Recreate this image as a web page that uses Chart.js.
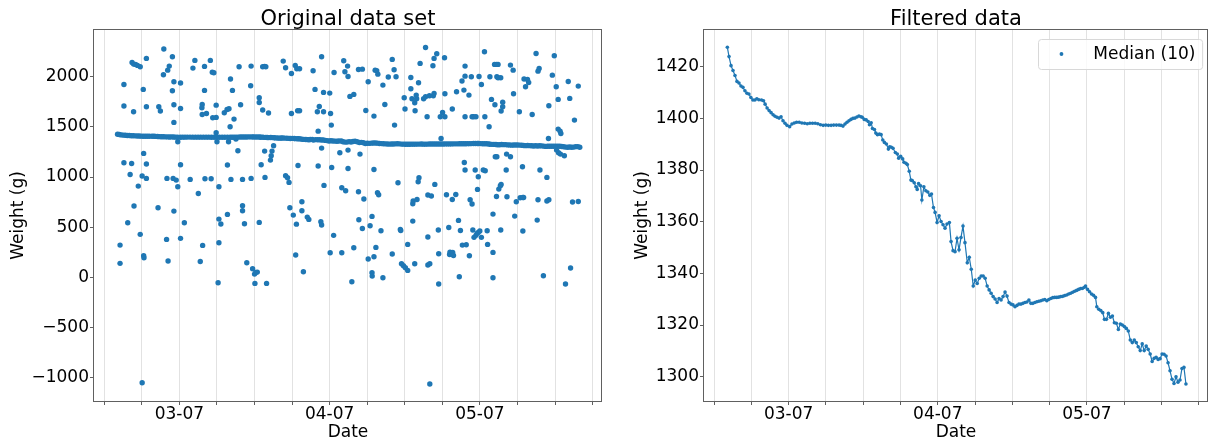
<!DOCTYPE html>
<html>
<head>
<meta charset="utf-8">
<script src="https://cdn.jsdelivr.net/npm/chart.js@4.4.1/dist/chart.umd.min.js"></script>
<style>
  html, body { margin: 0; padding: 0; background: #fff; }
  .panel { position: absolute; top: 0; width: 606px; height: 441px; }
  #rawPanel { left: 0; }
  #medianPanel { left: 606px; }
</style>
</head>
<body>
<div class="panel" id="rawPanel"><canvas id="rawChart" width="606" height="441"></canvas></div>
<div class="panel" id="medianPanel"><canvas id="medianChart" width="606" height="441"></canvas></div>
<script>
// hours since day 03 00:00
const tickHours = [-5, 1, 7, 13, 19, 25, 31, 37, 43, 49, 55, 61, 67, 73];
const tickLabels = ['', '', '03-07', '', '', '', '04-07', '', '', '', '05-07', '', '', ''];

const rawTicks = [-1000, -500, 0, 500, 1000, 1500, 2000];
const medianTicks = [1300, 1320, 1340, 1360, 1380, 1400, 1420];

// median (10) filtered weight
const medianHours = [
  -2.87, -2.6, -2.28, -1.96, -1.64, -1.32, -1.0, -0.68, -0.36, -0.04,
  0.28, 0.6, 0.92, 1.24, 1.56, 1.88, 2.2, 2.63, 2.95, 3.21,
  3.53, 3.85, 4.17, 4.49, 4.81, 5.13, 5.45, 5.77, 6.09, 6.41,
  6.73, 7.16, 7.53, 7.9, 8.28, 8.7, 9.13, 9.56, 9.99, 10.41,
  10.84, 11.27, 11.69, 12.12, 12.55, 12.97, 13.4, 13.83, 14.25, 14.68,
  15.11, 15.43, 15.75, 16.07, 16.39, 16.71, 17.03, 17.35, 17.67, 17.99,
  18.31, 18.63, 18.84, 19.16, 19.48, 19.8, 20.01, 20.28, 20.49, 20.81,
  21.03, 21.29, 21.61, 21.88, 22.15, 22.41, 22.73, 23.05, 23.27, 23.53,
  23.8, 24.17, 24.49, 24.71, 25.03, 25.35, 25.56, 25.88, 26.1, 26.41,
  26.68, 26.89, 27.21, 27.48, 27.69, 27.91, 28.23, 28.44, 28.76, 29.08,
  29.4, 29.72, 29.99, 30.31, 30.57, 30.89, 31.21, 31.53, 31.85, 32.17,
  32.49, 32.87,
  33.14, 33.46, 33.78, 34.1, 34.42, 34.74, 35.06, 35.38, 35.75, 36.07,
  36.39, 36.71, 37.03, 37.35, 37.67, 37.99, 38.31, 38.63, 38.95, 39.27,
  39.59, 39.91, 40.23, 40.55, 40.87, 41.19, 41.51, 41.83, 42.15, 42.47,
  42.79, 43.11, 43.43, 43.75, 44.07, 44.39, 44.71, 45.03, 45.35, 45.67,
  45.99, 46.31, 46.63, 46.95, 47.27, 47.59, 47.91, 48.23, 48.55, 48.87,
  49.19, 49.51, 49.83, 50.15, 50.47, 50.79, 51.11, 51.43, 51.75, 52.07,
  52.39, 52.71, 53.03, 53.35, 53.67, 53.99, 54.31, 54.63, 54.79, 55.11,
  55.43, 55.75, 56.07, 56.39, 56.6, 56.92, 57.24, 57.56, 57.83, 58.15,
  58.47, 58.79, 59.11, 59.43, 59.75, 60.07, 60.39, 60.71, 61.03, 61.35,
  61.67, 61.99, 62.31, 62.63, 62.95, 63.27, 63.59, 63.91, 64.23, 64.55,
  64.87, 65.19, 65.51, 65.83, 66.15, 66.47, 66.79, 67.11, 67.43, 67.75,
  68.07, 68.39, 68.71, 69.03, 69.35, 69.67, 69.99, 70.31, 70.63, 70.95
];
const medianWeights = [
  1427.5, 1423.9, 1420.4, 1418.5, 1416.6, 1414.3, 1413.7, 1412.5, 1412, 1410.7,
  1409.7, 1409.4, 1408.1, 1407.1, 1407.1, 1407.6, 1407.2, 1407.1, 1406.8, 1405.5,
  1404, 1403, 1402.2, 1401.4, 1400.8, 1400.4, 1400.1, 1400.6, 1399.1, 1398.1,
  1397.3, 1396.8, 1397.8, 1398.2, 1398.5, 1398.5, 1398.2, 1398.1, 1397.9, 1398.1,
  1398.1, 1398.1, 1397.9, 1397.5, 1397.3, 1397.4, 1397.3, 1397.3, 1397.4, 1397.4,
  1397.4, 1397.3, 1397, 1397.8, 1398.5, 1399.1, 1399.6, 1400, 1400.1, 1400.5,
  1400.9, 1400.6, 1400.4, 1399.6, 1399.4, 1398.8, 1397.5, 1398.3, 1396.1, 1395.7,
  1394.3, 1393.7, 1393.9, 1393.7, 1391.6, 1390.7, 1390.1, 1388.1, 1389, 1388.8,
  1388.4, 1386.8, 1386.2, 1384.6, 1385.3, 1384.3, 1383, 1382.6, 1382.1, 1379.5,
  1376.1, 1375.9, 1375.1, 1373.5, 1372.5, 1374.8, 1373.9, 1368.4, 1373.5, 1372,
  1371.5, 1370.2, 1370.7, 1365.5, 1363.6, 1359.7, 1362.3, 1360.1, 1358.8, 1357.5,
  1359.1, 1359.7,
  1352.3, 1348.8, 1348.4, 1353.6, 1349.1, 1353.9, 1358.3, 1351.9, 1344.1, 1346.2,
  1341.6, 1335.1, 1337.4, 1336.1, 1338.1, 1339, 1339, 1338.1, 1335.1, 1333.6,
  1332.3, 1331, 1330.1, 1328.7, 1330.3, 1329.7, 1331, 1332.8, 1331.2, 1328.7,
  1328.1, 1327.8, 1327.1, 1327.6, 1328.1, 1328.1, 1328.4, 1328.7, 1328.9, 1329.7,
  1328.4, 1328.4, 1328.7, 1329, 1329.2, 1329.4, 1329.7, 1329.9, 1329.4, 1329.9,
  1330.3, 1330.6, 1330.7, 1330.7, 1330.8, 1331, 1331.1, 1331.4, 1331.6, 1332,
  1332.3, 1332.7, 1333.1, 1333.4, 1333.8, 1334.1, 1334.2, 1334.6, 1335.1, 1333.8,
  1332.9, 1332, 1331.5, 1330.7, 1327.1, 1326.1, 1325.6, 1324.8, 1322.2, 1322.2,
  1324.5, 1323, 1323.5, 1320.9, 1320.7, 1318.3, 1320.4, 1320, 1319.4, 1318.7,
  1317.7, 1314.2, 1313.2, 1314.2, 1313.2, 1311.6, 1310.1, 1312.7, 1310.1, 1311.9,
  1310.6, 1308.8, 1305.9, 1307.1, 1307.5, 1306.7, 1307, 1308.8, 1308.7, 1308,
  1305.4, 1302.3, 1299, 1297.4, 1300, 1297.9, 1298.7, 1303.2, 1303.6, 1297.2
];

// raw readings away from the main band
const outlierHours = [
  -2.47, -2.47, -1.85, -1.85, -1.85, -1.24, -0.86, -0.55, -0.31, 0.0,
  0.31, -0.62, -0.31, -0.24, 0.44, 0.75, 0.75, 1.24, 1.3, 1.3,
  1.35, 1.06, 1.06, 1.74, 1.74, 1.74, 1.74, 3.6, 3.72, 3.97,
  4.52, 4.46, 4.96, 5.02, 5.14, 5.2, 5.39, 5.89, 5.89, 6.01,
  6.13, 6.13, 6.13, 6.13, 6.5, 6.75, 6.75, 7.19, 7.19, 7.19,
  7.19, 7.8, 8.73, 9.17, 9.48, 10.03, 10.34, 10.65, 10.6, 10.65,
  10.72, 11.02, 11.02, 11.09, 11.33, 11.95, 12.08, 12.26, 12.51, 12.33,
  12.88, 12.88, 12.88, 13.01, 13.19, 13.32, 13.32, 13.32, 13.63, 14.18,
  14.62, 14.93, 14.68, 14.68, 14.86, 15.11, 15.17, 15.24, 15.48, 15.73,
  16.04, 16.35, 16.54, 16.78, 17.09, 17.09, 17.09, 17.4, 17.77, 18.39,
  18.46, 18.46, 18.7, 19.01, 19.2, 19.45, 19.07, 19.76, 19.76, 19.76,
  20.07, 20.31, 20.31, 20.62, 20.81, 20.62, 20.68, 20.93, 21.24, 21.55,
  21.67, 21.8, 22.05, 23.59, 23.97, 23.97, 24.28, 24.52, 24.65, 24.9,
  24.9, 25.2, 25.51, 25.76, 26.2, 25.58, 25.7, 25.89, 26.2, 25.95,
  26.57, 26.57, 26.81, 27.43, 27.68, 28.36, 28.67, 29.04, 29.17, 29.17,
  29.35, 29.6, 29.72, 29.72, 29.72, 30.03, 30.03, 30.1, 31.02, 31.15,
  31.27, 31.33, 31.09, 31.64, 31.71, 32.63, 32.94, 32.94, 33.25, 33.44,
  33.56, 33.87, 33.94, 33.94, 33.94, 34.24, 34.86, 34.55, 34.86, 35.61,
  36.23, 35.61, 35.85, 35.67, 36.23, 36.47, 36.78, 37.16, 37.16, 37.46,
  37.77, 37.77, 37.8, 38.08, 38.08, 38.08, 38.27, 38.52, 38.7, 38.39,
  38.64, 38.83, 39.2, 39.51, 39.51, 39.82, 40.37, 41.0, 41.0, 41.3,
  41.37, 41.61, 41.92, 42.29, 42.36, 42.48, 42.79, 43.1, 43.47, 42.91,
  43.04, 43.47, 43.97, 44.15, 43.97, 44.28, 44.59, 44.9, 44.83, 44.28,
  44.34, 44.59, 44.65, 44.96, 45.14, 45.27, 45.2, 45.45, 46.01, 46.32,
  46.32, 46.57, 46.69, 46.69, 47.0, 46.94, 46.69, 47.0, 47.25, 47.56,
  47.68, 47.5, 47.68, 48.11, 47.8, 48.36, 48.42, 48.42, 48.67, 48.8,
  49.04, 49.41, 49.35, 49.41, 49.66, 50.03, 50.16, 50.22, 50.47, 50.65,
  50.78, 50.59, 50.59, 51.15, 51.27, 51.58, 51.71, 51.89, 52.14, 52.2,
  52.45, 52.63, 52.63, 52.51, 52.63, 52.63, 52.82, 53.25, 53.32, 53.44,
  53.75, 53.63, 53.75, 54.0, 54.37, 53.87, 54.06, 54.37, 54.55, 54.74,
  54.99, 54.25, 54.62, 54.74, 54.86, 55.24, 55.24, 55.54, 55.85, 55.79,
  55.73, 56.16, 56.23, 56.47, 56.6, 56.85, 57.09, 57.09, 57.09, 57.34,
  57.65, 57.9, 57.4, 57.71, 57.9, 58.33, 57.46, 57.71, 57.65, 58.02,
  58.27, 58.39, 58.33, 58.39, 58.64, 58.64, 59.2, 59.26, 59.32, 59.88,
  59.88, 60.31, 60.37, 60.56, 60.81, 61.3, 61.43, 61.86, 61.98, 61.8,
  61.86, 62.05, 62.29, 62.6, 62.79, 63.35, 63.97, 64.15, 64.28, 64.46,
  64.28, 64.59, 65.14, 65.7, 65.7, 66.01, 66.01, 65.95, 66.57, 66.88,
  67.19, 67.5, 67.5, 67.81, 67.93, 67.25, 67.56, 67.87, 68.49, 68.67,
  69.11, 69.35, 69.48, 69.79, 70.1, 70.71, 70.71
];
const outlierWeights = [
  322, 140, 1923, 1708, 1143, 545, 1026, 2143, 2126, 2123,
  2113, 1136, 1651, 711, 910, 2100, 429, 1874, 1236, 216,
  196, -1050, 1010, 2183, 1701, 1130, 987, 694, 1701, 1658,
  2276, 2020, 379, 987, 2066, 163, 2106, 2199, 1860, 987,
  1950, 1721, 1545, 661, 970, 1352, 904, 1937, 1684, 1123,
  389, 545, 977, 2086, 2163, 837, 159, 1724, 1691, 1624,
  319, 2103, 1864, 983, 1634, 2163, 983, 2046, 2040, 1591,
  1717, 1595, 1442, 1352, -53, 904, 581, 345, 532, 1641,
  1674, 1681, 1120, 628, 1352, 1502, 1977, 977, 1864, 1578,
  1379, 1262, 2100, 1721, 977, 714, 664, 535, 146, 1910,
  2106, 987, 86, 33, 50, 53, -60, 1791, 1744, 548,
  1123, 1668, 2100, 2103, 2100, 1259, 997, -60, 1638, 1169,
  1213, 1259, 1312, 2156, 2090, 1013, 993, 947, 694, 2033,
  1634, 621, 2113, 2080, 2080, 223, 531, 1661, 1661, 1116,
  754, 664, 56, 601, 578, 2060, 1874, 1651, 1458, 1110,
  1704, 555, 2199, 522, 1289, 1844, 1651, 917, 1837, 1634,
  1518, 1096, 246, 419, 2043, 1242, 246, 894, 2159, 2050,
  864, 2106, 2003, 1269, 1086, 1804, 1824, -43, 296, 2073,
  2076, 854, 1229, 575, 488, 781, 1664, 1950, 183, 515,
  608, 47, 13, 1608, 206, 1076, 2066, 2060, 2026, 299,
  844, 824, 465, -3, 1917, 1724, 1997, 2173, 233, 2070,
  1518, 2000, 943, 478, 468, 136, 116, 96, 70, 1791,
  1678, 329, 1880, 1781, 1993, 561, 1741, 1781, 1817, 734,
  761, 136, 1661, 777, 953, 993, 1940, 2133, 1781, 1800,
  2292, 1601, 402, 123, 136, 1810, 821, -1063, 811, 1810,
  1834, 2109, 2183, 2229, 927, 472, 236, -66, 1601, 1385,
  1644, 1601, 2189, 1830, 824, 498, 229, 252, 239, 249,
  219, 1678, 777, 827, 1850, 568, 7, 468, 1957, 322,
  1867, 2006, 2106, 1146, 1070, 1601, 326, 1817, 216, 774,
  731, 2000, 1601, 1601, 1601, 472, 399, 419, 439, 448,
  462, 1070, 877, 1003, 2003, 399, 1923, 1070, 1063, 1601,
  2249, 465, 329, 1502, 2000, 1774, 631, 249, -3, 2123,
  2123, 2123, 1721, 2000, 1990, 1990, 1203, 1203, 807, 880,
  914, 927, 472, 1658, 1701, 1747, 1070, 1229, 804, 2116,
  1203, 2066, 1830, 611, 754, 1651, 794, 797, 797, 1103,
  462, 1977, 1900, 1973, 1943, 1624, 2232, 571, 2056, 2083,
  774, 1070, 17, 997, 761, 774, 1711, 1385, 2016, 2209,
  1900, 1774, 1478, 1458, 1435, 1269, 1242, 1229, 1213, -66,
  1953, 1784, 93, 751, 1568, 1907, 757
];

const BLUE = '#1f77b4';
const FONT = 'DejaVu Sans';
const SPINE = '#606060';

function points(xs, ys) {
  return xs.map((x, i) => ({ x: x, y: ys[i] }));
}

// matplotlib-like box around the plot area
const frame = {
  id: 'frame',
  afterDraw(chart) {
    const { ctx, chartArea: a } = chart;
    ctx.save();
    ctx.strokeStyle = SPINE;
    ctx.lineWidth = 1;
    const right = Math.min(a.right, chart.width) - 0.5;
    ctx.strokeRect(Math.round(a.left) - 0.5, Math.round(a.top) - 0.5,
      right - Math.round(a.left) + 0.5, Math.round(a.bottom) - Math.round(a.top) + 1);
    ctx.restore();
  }
};

const legendBox = {
  id: 'legendBox',
  afterDraw(chart, args, opts) {
    const { ctx, chartArea: a } = chart;
    ctx.save();
    ctx.font = '17px "' + FONT + '"';
    const w = ctx.measureText(opts.text).width;
    const right = a.right - 6;
    const top = a.top + 9;
    const left = right - w - 62;
    ctx.beginPath();
    ctx.roundRect(Math.round(left) + 0.5, top + 0.5, right - left, 30, 3);
    ctx.fillStyle = 'rgba(255,255,255,0.8)';
    ctx.fill();
    ctx.strokeStyle = '#d8d8d8';
    ctx.stroke();
    ctx.fillStyle = BLUE;
    ctx.beginPath();
    ctx.arc(left + 23.6, top + 15, 1.9, 0, Math.PI * 2);
    ctx.fill();
    ctx.fillStyle = '#000';
    ctx.textBaseline = 'middle';
    ctx.fillText(opts.text, left + 55.5, top + 15.5);
    ctx.restore();
  }
};

function makeOptions(title, yMin, yMax, yTicks, yWidth, yTitlePad, rightPad) {
  return {
    responsive: false,
    animation: false,
    events: [],
    layout: { padding: { left: 0, right: rightPad, top: 0, bottom: 0 } },
    plugins: {
      legend: { display: false },
      tooltip: { enabled: false },
      title: {
        display: true,
        text: title,
        color: '#000',
        fullSize: false,
        font: { family: FONT, size: 21, weight: 'normal', lineHeight: 1 },
        padding: { top: 9, bottom: 0 },
      },
    },
    scales: {
      x: {
        type: 'linear',
        min: -6.63,
        max: 74.5,
        afterBuildTicks: (axis) => { axis.ticks = tickHours.map((v) => ({ value: v })); },
        afterFit: (axis) => { axis.height = 40; },
        ticks: {
          autoSkip: false,
          maxRotation: 0,
          color: '#000',
          padding: 1,
          font: { family: FONT, size: 17, lineHeight: 1 },
          callback: (v, i) => tickLabels[i],
        },
        grid: { color: '#e2e2e2', lineWidth: 1, tickLength: 4, tickColor: SPINE },
        border: { display: false },
        title: {
          display: true,
          text: 'Date',
          color: '#000',
          font: { family: FONT, size: 17, lineHeight: 1 },
          padding: { top: 0, bottom: 0 },
        },
      },
      y: {
        min: yMin,
        max: yMax,
        afterBuildTicks: (axis) => { axis.ticks = yTicks.map((v) => ({ value: v })); },
        afterFit: (axis) => { axis.width = yWidth; },
        ticks: {
          color: '#000',
          padding: 1,
          font: { family: FONT, size: 17 },
          callback: (v) => (v < 0 ? '\u2212' + Math.abs(v) : String(v)),
        },
        grid: { drawOnChartArea: false, tickLength: 4, tickColor: SPINE },
        border: { display: false },
        title: {
          display: true,
          text: 'Weight (g)',
          color: '#000',
          font: { family: FONT, size: 17, lineHeight: 1.2 },
          padding: { top: yTitlePad, bottom: 0 },
        },
      },
    },
  };
}

function createChart(id, config) {
  const ctx = document.getElementById(id);
  if (ctx) {
    new Chart(ctx, config);
  }
}

createChart('rawChart', {
  type: 'scatter',
  data: {
    datasets: [
      {
        label: 'raw band',
        data: points(medianHours, medianWeights),
        backgroundColor: BLUE,
        borderWidth: 0,
        pointRadius: 2.7,
      },
      {
        label: 'raw outliers',
        data: points(outlierHours, outlierWeights),
        backgroundColor: BLUE,
        borderWidth: 0,
        pointRadius: 2.7,
      },
    ],
  },
  options: makeOptions('Original data set', -1232, 2466, rawTicks, 94, 8.8, 4),
  plugins: [frame],
});

const medianOptions = makeOptions('Filtered data', 1290.6, 1434.2, medianTicks, 98, 26.8, 0);
medianOptions.plugins.legendBox = { text: 'Median (10)' };

createChart('medianChart', {
  type: 'line',
  data: {
    datasets: [{
      label: 'Median (10)',
      data: points(medianHours, medianWeights),
      borderColor: BLUE,
      borderWidth: 1.2,
      backgroundColor: BLUE,
      pointBackgroundColor: BLUE,
      pointBorderWidth: 0,
      pointRadius: 1.8,
      tension: 0,
      fill: false,
    }],
  },
  options: medianOptions,
  plugins: [frame, legendBox],
});
</script>
</body>
</html>
